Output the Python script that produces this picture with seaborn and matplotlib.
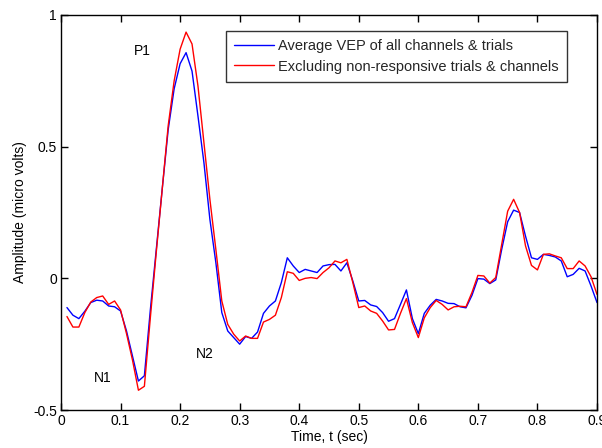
import numpy as np
import pandas as pd
import matplotlib
matplotlib.use("Agg")
import matplotlib.pyplot as plt
import seaborn as sns

# Sample times (s)
time_s = [round(0.01 * k, 2) for k in range(1, 91)]

# Grand-average VEP over all channels and trials (microvolts)
vep_all = [
    -0.111, -0.140, -0.153, -0.125, -0.092, -0.083, -0.086, -0.105, -0.108, -0.124,
    -0.200, -0.295, -0.390, -0.370, -0.120, 0.110, 0.340, 0.565, 0.720, 0.815,
    0.857, 0.787, 0.616, 0.439, 0.224, 0.060, -0.130, -0.200, -0.225, -0.250,
    -0.221, -0.228, -0.204, -0.133, -0.105, -0.086, -0.016, 0.078, 0.047, 0.022,
    0.034, 0.028, 0.022, 0.047, 0.052, 0.053, 0.028, 0.059, -0.010, -0.086,
    -0.084, -0.101, -0.107, -0.130, -0.163, -0.153, -0.099, -0.044, -0.153, -0.210,
    -0.133, -0.102, -0.080, -0.086, -0.095, -0.096, -0.108, -0.112, -0.065, -0.001,
    -0.003, -0.020, -0.006, 0.110, 0.215, 0.259, 0.250, 0.160, 0.078, 0.072,
    0.091, 0.087, 0.081, 0.066, 0.006, 0.015, 0.038, 0.028, -0.029, -0.092,
]

# Average after dropping non-responsive trials and channels (microvolts)
vep_responsive = [
    -0.145, -0.185, -0.185, -0.130, -0.090, -0.073, -0.067, -0.099, -0.086, -0.120,
    -0.210, -0.310, -0.425, -0.410, -0.150, 0.100, 0.340, 0.580, 0.750, 0.870,
    0.935, 0.890, 0.730, 0.515, 0.300, 0.110, -0.086, -0.175, -0.212, -0.238,
    -0.219, -0.228, -0.228, -0.166, -0.156, -0.140, -0.073, 0.025, 0.019, -0.008,
    0.000, 0.003, -0.001, 0.022, 0.040, 0.066, 0.059, 0.072, -0.016, -0.111,
    -0.105, -0.124, -0.133, -0.162, -0.196, -0.194, -0.133, -0.077, -0.168, -0.225,
    -0.150, -0.111, -0.084, -0.099, -0.120, -0.108, -0.106, -0.108, -0.054, 0.011,
    0.009, -0.018, 0.003, 0.129, 0.255, 0.300, 0.250, 0.123, 0.049, 0.032,
    0.091, 0.093, 0.085, 0.078, 0.037, 0.037, 0.066, 0.047, 0.006, -0.061,
]

series_names = [
    "Average VEP of all channels & trials",
    "Excluding non-responsive trials & channels",
]

# Component labels: (text, time, amplitude)
peak_labels = [("P1", 0.123, 0.865), ("N1", 0.056, -0.38), ("N2", 0.226, -0.288)]

x_ticks = [0, 0.1, 0.2, 0.3, 0.4, 0.5, 0.6, 0.7, 0.8, 0.9]
x_tick_labels = ["0", "0.1", "0.2", "0.3", "0.4", "0.5", "0.6", "0.7", "0.8", "0.9"]
y_ticks = [-0.5, 0, 0.5, 1]
y_tick_labels = ["-0.5", "0", "0.5", "1"]

df = pd.DataFrame({
    "t": time_s * 2,
    "amp": vep_all + vep_responsive,
    "series": [series_names[0]] * len(time_s) + [series_names[1]] * len(time_s),
})

sns.set_theme(style="white")
plt.rcParams["font.family"] = ["Liberation Sans", "DejaVu Sans"]
plt.rcParams["xtick.direction"] = "in"
plt.rcParams["ytick.direction"] = "in"

fig = plt.figure(figsize=(6.02, 4.48), dpi=100)
ax = fig.add_axes([61 / 602, 38 / 448, 536 / 602, 395 / 448])

sns.lineplot(
    data=df, x="t", y="amp", hue="series",
    palette={series_names[0]: "#0000ff", series_names[1]: "#ff0000"},
    linewidth=1.0, ax=ax, legend=True,
)

for txt, tx, ty in peak_labels:
    ax.text(tx, ty, txt, fontsize=10, color="black", va="center", ha="left")

ax.set_xlim(0, 0.9)
ax.set_ylim(-0.5, 1)
ax.set_xticks(x_ticks)
ax.set_xticklabels(x_tick_labels)
ax.set_yticks(y_ticks)
ax.set_yticklabels(y_tick_labels)
ax.tick_params(axis="both", which="both", direction="in", length=5, width=1,
               labelsize=10, colors="black", top=True, right=True,
               bottom=True, left=True, pad=3)
for sp in ax.spines.values():
    sp.set_visible(True)
    sp.set_color("black")
    sp.set_linewidth(1.0)

ax.set_xlabel("Time, t (sec)", fontsize=10, color="black", labelpad=1)
ax.set_ylabel("Amplitude (micro volts)", fontsize=10, color="black", labelpad=4)

leg = ax.legend(
    loc="upper right", bbox_to_anchor=((567 - 61) / 536, (410 - 31) / 395),
    borderaxespad=0, frameon=True, fancybox=False, fontsize=10.5,
    handlelength=2.75, handletextpad=0.3, borderpad=0.55, labelspacing=0.45,
    title=None,
)
leg.get_frame().set_edgecolor("black")
leg.get_frame().set_linewidth(1.0)
leg.get_frame().set_facecolor("white")

fig.savefig("out.png", dpi=100)
